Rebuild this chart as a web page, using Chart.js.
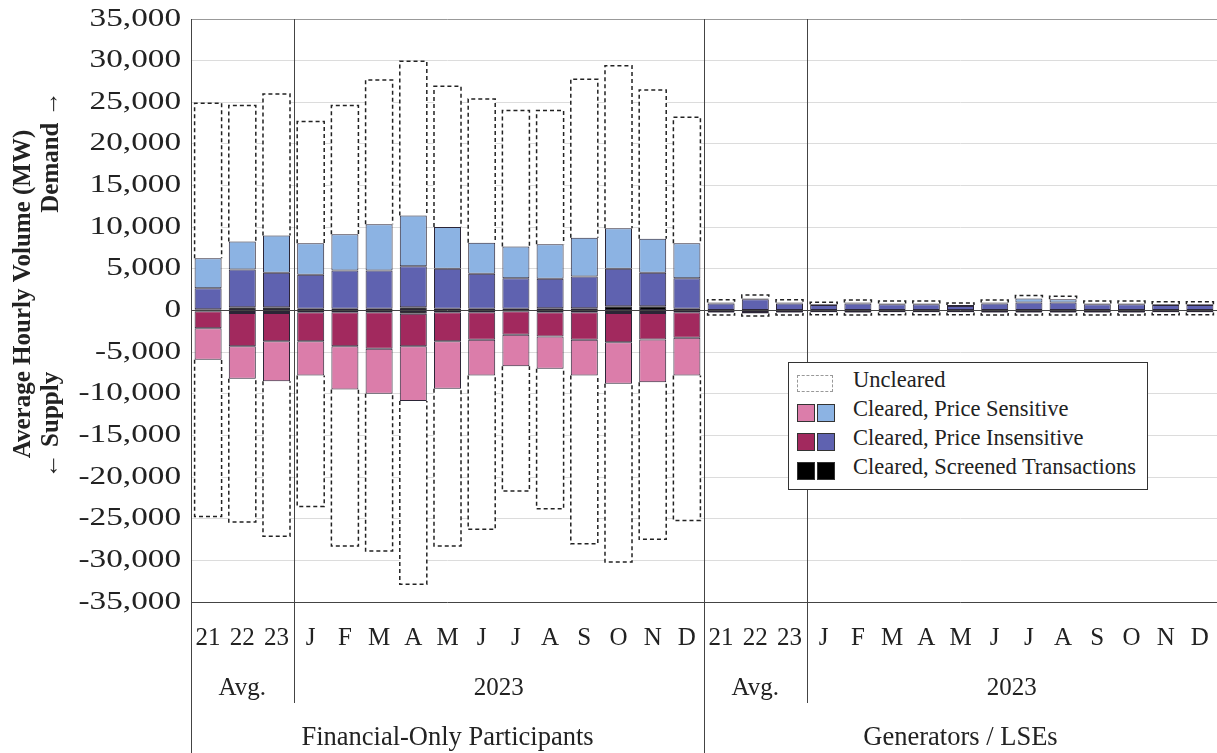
<!DOCTYPE html>
<html>
<head>
<meta charset="utf-8">
<script src="https://cdn.jsdelivr.net/npm/chart.js@4.4.0/dist/chart.umd.min.js"></script>
<style>
html, body { margin: 0; padding: 0; background: #fff; }
#wrap { position: relative; width: 1217px; height: 753px; }
#legend {
  position: absolute; left: 788px; top: 362px; width: 358px; height: 126px;
  border: 1px solid #333; background: #fff;
  font-family: "Liberation Serif", "Times New Roman", serif; font-size: 22.5px; color: #222;
}
.row { position: absolute; left: 8px; height: 20px; line-height: 20px; }
.sw { display: inline-block; width: 16px; height: 16px; border: 1px solid #333; vertical-align: middle; margin-right: 2px; }
.dash { display: inline-block; width: 34px; height: 15px; border: 1px dashed #999; vertical-align: middle; margin-right: 2px; }
.lbl { position: absolute; left: 56px; top: -2px; white-space: nowrap; }
</style>
</head>
<body>
<div id="wrap">
  <canvas id="mycanvas" width="1217" height="753"></canvas>
  <div id="legend">
    <div class="row" style="top:9px"><span class="dash"></span><span class="lbl">Uncleared</span></div>
    <div class="row" style="top:38px"><span class="sw" style="background:#DB7DAA"></span><span class="sw" style="background:#8CB3E3"></span><span class="lbl">Cleared, Price Sensitive</span></div>
    <div class="row" style="top:67px"><span class="sw" style="background:#A2295E"></span><span class="sw" style="background:#5F62B0"></span><span class="lbl">Cleared, Price Insensitive</span></div>
    <div class="row" style="top:96px"><span class="sw" style="background:#000"></span><span class="sw" style="background:#000"></span><span class="lbl">Cleared, Screened Transactions</span></div>
  </div>
</div>
<script>
// categories
var periods = ['21','22','23','J','F','M','A','M','J','J','A','S','O','N','D'];
var groups = ['Financial-Only Participants', 'Generators / LSEs'];
var yTicks = [-35000, 35000, 5000];

// financial-only participants, demand side (MW)
var finDemScreened = [150,400,400,200,200,200,400,200,200,200,280,280,520,520,200];
var finDemInsens   = [2530,4520,4120,4080,4600,4600,4920,4800,4200,3680,3520,3800,4480,4000,3680];
var finDemSens     = [3600,3360,4480,3800,4360,5560,6080,5040,3720,3800,4160,4640,4880,4080,4200];
var finDemUncl     = [18600,16320,17000,14600,15440,17320,18520,16880,17280,16320,16040,19040,19520,17880,15120];
// financial-only participants, supply side
var finSupScreened = [-100,-300,-300,-200,-200,-200,-400,-200,-200,-100,-200,-200,-300,-300,-200];
var finSupInsens   = [-2020,-3980,-3380,-3480,-4080,-4400,-3880,-3480,-3320,-2820,-2920,-3320,-3500,-3180,-3080];
var finSupSens     = [-3800,-3920,-4800,-4120,-5200,-5400,-6600,-5720,-4280,-3760,-3880,-4280,-5000,-5120,-4520];
var finSupUncl     = [-18800,-17200,-18640,-15720,-18800,-18880,-22000,-18880,-18480,-15000,-16800,-20200,-21400,-18880,-17400];

// generators / LSEs, demand side
var genDemScreened = [50,50,50,50,50,50,50,50,50,50,50,50,50,50,50];
var genDemInsens   = [800,1300,800,600,800,700,700,500,800,900,900,700,700,600,600];
var genDemSens     = [100,100,100,100,100,100,100,100,100,500,400,100,100,100,100];
var genDemUncl     = [350,400,350,250,300,300,300,250,300,350,350,300,300,300,300];
// generators / LSEs, supply side
var genSupScreened = [-50,-50,-50,-50,-50,-50,-50,-50,-50,-50,-50,-50,-50,-50,-50];
var genSupInsens   = [-200,-250,-200,-150,-200,-150,-150,-150,-200,-200,-200,-200,-200,-150,-150];
var genSupSens     = [-50,-50,-50,-50,-50,-50,-50,-50,-50,-50,-50,-50,-50,-50,-50];
var genSupUncl     = [-250,-300,-250,-250,-250,-250,-250,-250,-250,-250,-250,-250,-250,-250,-250];

var labels = periods.concat(periods);
var serif = '"Liberation Serif", "Times New Roman", serif';

function bars(label, data, color, dashed) {
  return {
    label: label,
    data: data,
    stack: 'vol',
    backgroundColor: color,
    borderColor: dashed ? 'rgba(0,0,0,0)' : '#2b2536',
    borderWidth: dashed ? 0 : 1,
    borderSkipped: false,
    dashed: dashed,
    barPercentage: 0.79,
    categoryPercentage: 1.0
  };
}

var chartdata = {
  labels: labels,
  datasets: [
    bars('Screened', finDemScreened.concat(genDemScreened), '#000000', false),
    bars('Price Insensitive', finDemInsens.concat(genDemInsens), '#5F62B0', false),
    bars('Price Sensitive', finDemSens.concat(genDemSens), '#8CB3E3', false),
    bars('Uncleared', finDemUncl.concat(genDemUncl), '#ffffff', true),
    bars('Screened', finSupScreened.concat(genSupScreened), '#000000', false),
    bars('Price Insensitive', finSupInsens.concat(genSupInsens), '#A2295E', false),
    bars('Price Sensitive', finSupSens.concat(genSupSens), '#DB7DAA', false),
    bars('Uncleared', finSupUncl.concat(genSupUncl), '#ffffff', true)
  ]
};

// dashed outline for uncleared bars, zero line on top
var dashPlugin = {
  id: 'dashPlugin',
  afterDatasetsDraw: function(chart) {
    var ctx = chart.ctx;
    ctx.save();
    ctx.strokeStyle = '#222';
    ctx.lineWidth = 1.5;
    ctx.setLineDash([4, 3]);
    chart.data.datasets.forEach(function(ds, i) {
      if (!ds.dashed) return;
      chart.getDatasetMeta(i).data.forEach(function(bar) {
        var p = bar.getProps(['x', 'y', 'base', 'width'], true);
        var l = p.x - p.width / 2, r = p.x + p.width / 2;
        ctx.beginPath();
        ctx.moveTo(l, p.base);
        ctx.lineTo(l, p.y);
        ctx.lineTo(r, p.y);
        ctx.lineTo(r, p.base);
        ctx.stroke();
      });
    });
    ctx.setLineDash([]);
    var y0 = chart.scales.y.getPixelForValue(0);
    ctx.strokeStyle = '#444';
    ctx.lineWidth = 1;
    ctx.beginPath();
    ctx.moveTo(chart.chartArea.left, y0);
    ctx.lineTo(chart.chartArea.right, y0);
    ctx.stroke();
    ctx.restore();
  }
};

// y tick labels (wide serif), category table under the plot and the axis title
var tablePlugin = {
  id: 'tablePlugin',
  afterDraw: function(chart) {
    var ctx = chart.ctx;
    var a = chart.chartArea;
    var x = chart.scales.x;
    var y = chart.scales.y;
    var n = labels.length;
    var w = (a.right - a.left) / n;
    var edge = function(i) { return a.left + i * w; };
    var H = chart.height;

    ctx.save();
    ctx.lineWidth = 1;
    ctx.strokeStyle = '#999';
    ctx.beginPath();
    ctx.moveTo(a.left, a.top + 0.5);
    ctx.lineTo(a.right, a.top + 0.5);
    ctx.stroke();

    ctx.strokeStyle = '#444';
    ctx.beginPath();
    ctx.moveTo(a.left, a.bottom + 0.5);
    ctx.lineTo(a.right, a.bottom + 0.5);
    ctx.stroke();

    var vlines = [[0, H], [3, 703], [15, H], [18, 703]];
    vlines.forEach(function(v) {
      var px = Math.round(edge(v[0])) + 0.5;
      ctx.beginPath();
      ctx.moveTo(px, a.top);
      ctx.lineTo(px, v[1]);
      ctx.stroke();
    });

    ctx.fillStyle = '#222';
    ctx.textBaseline = 'middle';

    // y tick labels
    ctx.textAlign = 'right';
    ctx.font = '25px ' + serif;
    y.ticks.forEach(function(t) {
      ctx.save();
      ctx.translate(a.left - 10, y.getPixelForValue(t.value));
      ctx.scale(1.33, 1);
      ctx.fillText(t.value.toLocaleString('en-US'), 0, 0);
      ctx.restore();
    });

    ctx.textAlign = 'center';
    labels.forEach(function(l, i) {
      ctx.fillText(l, x.getPixelForValue(i), 638);
    });
    for (var g = 0; g < 2; g++) {
      var s = g * periods.length;
      ctx.font = '25px ' + serif;
      ctx.fillText('Avg.', (edge(s) + edge(s + 3)) / 2, 688);
      ctx.fillText('2023', (edge(s + 3) + edge(s + periods.length)) / 2, 688);
      ctx.font = '26.5px ' + serif;
      ctx.fillText(groups[g], (edge(s) + edge(s + periods.length)) / 2, 738);
    }

    ctx.font = 'bold 25px ' + serif;
    ctx.save();
    ctx.translate(24, 294);
    ctx.rotate(-Math.PI / 2);
    ctx.fillText('Average Hourly Volume (MW)', 0, 0);
    ctx.restore();
    ctx.save();
    ctx.translate(52, 152);
    ctx.rotate(-Math.PI / 2);
    ctx.fillText('Demand \u2192', 0, 0);
    ctx.restore();
    ctx.save();
    ctx.translate(52, 425);
    ctx.rotate(-Math.PI / 2);
    ctx.fillText('\u2190 Supply', 0, 0);
    ctx.restore();
    ctx.restore();
  }
};

var ctx = document.getElementById('mycanvas');
var barGraph = new Chart(ctx, {
  type: 'bar',
  data: chartdata,
  plugins: [dashPlugin, tablePlugin],
  options: {
    responsive: false,
    animation: false,
    layout: { padding: { top: 19, bottom: 151, left: 0, right: 0 } },
    plugins: { legend: { display: false }, tooltip: { enabled: false } },
    scales: {
      x: { stacked: true, display: false },
      y: {
        stacked: true,
        min: yTicks[0], max: yTicks[1],
        afterFit: function(scale) { scale.width = 191; },
        ticks: { stepSize: yTicks[2], display: false },
        grid: { color: '#dcdcdc', drawTicks: false },
        border: { display: false }
      }
    }
  }
});
</script>
</body>
</html>
